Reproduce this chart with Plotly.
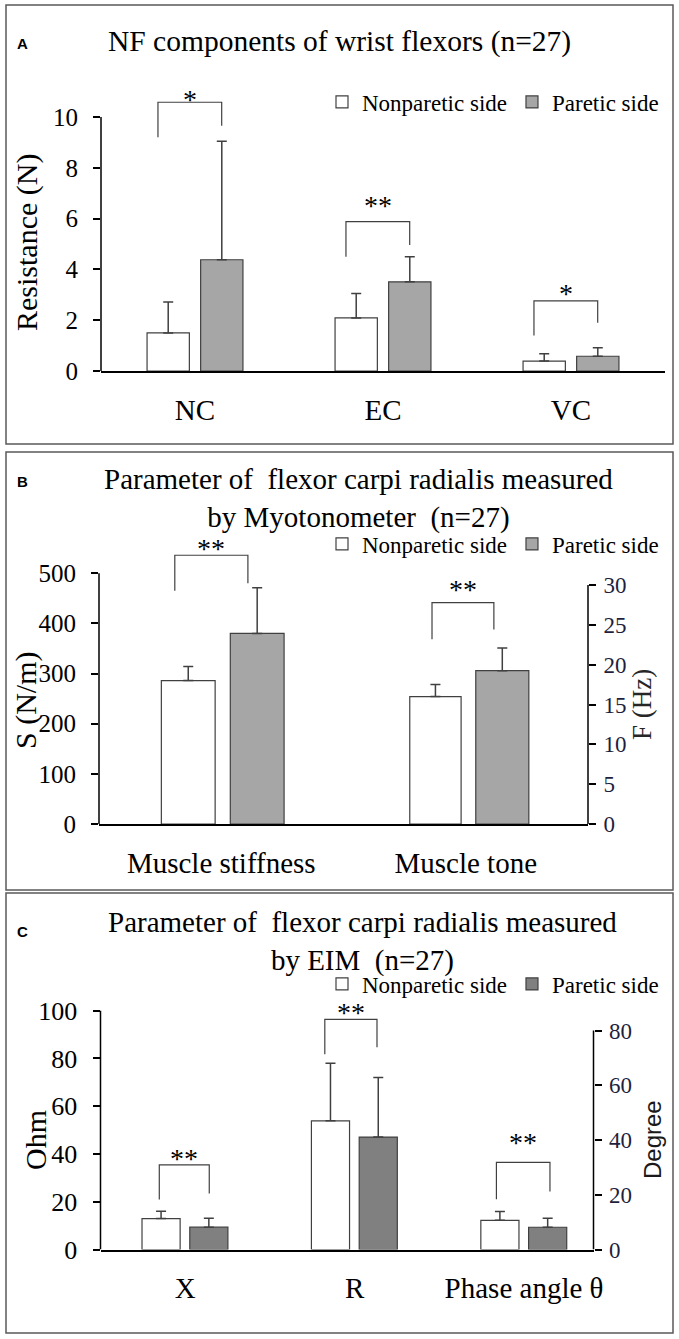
import plotly.graph_objects as go

W, H = 679, 1339
SERIF = "Liberation Serif, Times New Roman, serif"
SANS = "Liberation Sans, Arial, sans-serif"

# ---- panel A: NF components of wrist flexors (N)
a_cats = ["NC", "EC", "VC"]
a_nonparetic = [1.50, 2.09, 0.39]
a_nonparetic_sd = [1.22, 0.96, 0.29]
a_paretic = [4.38, 3.51, 0.58]
a_paretic_sd = [4.67, 0.99, 0.34]
a_sig = ["*", "**", "*"]
a_br_top = [10.58, 5.88, 2.76]
a_br_left = [9.2, 4.5, 1.4]
a_br_right = [9.66, 4.96, 1.9]
a_star = [10.9, 6.7, 3.25]

# ---- panel B: myotonometer (stiffness N/m on left, tone Hz on right)
b_cats = ["Muscle stiffness", "Muscle tone"]
b_nonparetic = [286, 16.0]
b_nonparetic_sd = [28, 1.5]
b_paretic = [380, 19.25]
b_paretic_sd = [91, 2.85]
b_sig = ["**", "**"]
b_br_top = [536, 27.8]
b_br_left = [465, 23.2]
b_br_right = [480, 24.4]
b_star = [560, 30.0]

# ---- panel C: EIM (X, R in Ohm on left, phase angle in degree on right)
c_cats = ["X", "R", "Phase angle θ"]
c_nonparetic = [12.95, 53.9, 10.67]
c_nonparetic_sd = [3.05, 24.1, 3.23]
c_paretic = [9.33, 47.1, 8.12]
c_paretic_sd = [3.77, 24.9, 3.28]
c_sig = ["**", "**", "**"]
c_br_top = [35.4, 96.4, 31.8]
c_br_left = [20.9, 81.8, 18.4]
c_br_right = [23.4, 84.7, 21.2]
c_star = [40.4, 101.4, 41.0]


def fx(p):
    return p / W


def fy(p):
    return 1 - p / H


fig = go.Figure()

EDGE = "#404040"


def add_bars(xs, ys, sd, color, name, xa, ya, leg, show, width, offset):
    fig.add_trace(go.Bar(
        x=xs, y=ys, name=name, width=width, offset=offset,
        marker=dict(color=color, line=dict(color=EDGE, width=1.2)),
        error_y=dict(type="data", symmetric=False, array=sd,
                     arrayminus=[0] * len(sd), color=EDGE, thickness=1.5, width=5),
        xaxis=xa, yaxis=ya, legend=leg, showlegend=show,
    ))


# panel A bars
add_bars([0, 1, 2], a_nonparetic, a_nonparetic_sd, "white", "Nonparetic side",
         "x", "y", "legend", True, 0.225, -0.255)
add_bars([0, 1, 2], a_paretic, a_paretic_sd, "#a6a6a6", "Paretic side",
         "x", "y", "legend", True, 0.225, 0.03)

# panel B bars (stiffness on y2, tone on y3)
add_bars([0], b_nonparetic[:1], b_nonparetic_sd[:1], "white", "Nonparetic side",
         "x2", "y2", "legend2", True, 0.22, -0.245)
add_bars([0], b_paretic[:1], b_paretic_sd[:1], "#a6a6a6", "Paretic side",
         "x2", "y2", "legend2", True, 0.22, 0.037)
add_bars([1], b_nonparetic[1:], b_nonparetic_sd[1:], "white", "Nonparetic side",
         "x2", "y3", "legend2", False, 0.21, -0.229)
add_bars([1], b_paretic[1:], b_paretic_sd[1:], "#a6a6a6", "Paretic side",
         "x2", "y3", "legend2", False, 0.217, 0.041)

# panel C bars (X, R on y4, phase angle on y5)
add_bars([0, 1], c_nonparetic[:2], c_nonparetic_sd[:2], "white", "Nonparetic side",
         "x3", "y4", "legend3", True, 0.225, -0.255)
add_bars([0, 1], c_paretic[:2], c_paretic_sd[:2], "#808080", "Paretic side",
         "x3", "y4", "legend3", True, 0.225, 0.027)
add_bars([2], c_nonparetic[2:], c_nonparetic_sd[2:], "white", "Nonparetic side",
         "x3", "y5", "legend3", False, 0.225, -0.255)
add_bars([2], c_paretic[2:], c_paretic_sd[2:], "#808080", "Paretic side",
         "x3", "y5", "legend3", False, 0.225, 0.027)

shapes = []
annotations = []


def bracket(xc, top, yl, yr, dl, dr, xa, ya, sig, star):
    x0, x1 = xc + dl, xc + dr
    shapes.append(dict(type="path", xref=xa, yref=ya,
                       path=f"M {x0},{yl} L {x0},{top} L {x1},{top} L {x1},{yr}",
                       line=dict(color=EDGE, width=1.2)))
    annotations.append(dict(x=(x0 + x1) / 2, y=star, xref=xa, yref=ya, text=sig,
                            showarrow=False, yshift=-5,
                            font=dict(family=SERIF, size=28, color="black")))


for i in range(3):
    bracket(i, a_br_top[i], a_br_left[i], a_br_right[i], -0.197, 0.142, "x", "y",
            a_sig[i], a_star[i])
bracket(0, b_br_top[0], b_br_left[0], b_br_right[0], -0.19, 0.109, "x2", "y2",
        b_sig[0], b_star[0])
bracket(1, b_br_top[1], b_br_left[1], b_br_right[1], -0.138, 0.115, "x2", "y3",
        b_sig[1], b_star[1])
bracket(0, c_br_top[0], c_br_left[0], c_br_right[0], -0.153, 0.142, "x3", "y4",
        c_sig[0], c_star[0])
bracket(1, c_br_top[1], c_br_left[1], c_br_right[1], -0.176, 0.132, "x3", "y4",
        c_sig[1], c_star[1])
bracket(2, c_br_top[2], c_br_left[2], c_br_right[2], -0.163, 0.153, "x3", "y5",
        c_sig[2], c_star[2])

# axis lines that stop at the last tick
for xa, ya, side, top in [("x", "y", 0, 10), ("x2", "y2", 0, 500), ("x2", "y3", 1, 30),
                          ("x3", "y4", 0, 100), ("x3", "y5", 1, 80)]:
    shapes.append(dict(type="line", xref=f"{xa} domain", yref=ya, x0=side, x1=side,
                       y0=0, y1=top, line=dict(color="black", width=1.5)))

# panel frames
for top, bottom in [(5, 444), (452, 890), (893, 1333)]:
    shapes.append(dict(type="rect", xref="paper", yref="paper",
                       x0=fx(6), x1=fx(673), y0=fy(bottom), y1=fy(top),
                       line=dict(color="#595959", width=1.5)))


def text(px, py, s, size, family=SERIF, angle=0, color="black", bold=False):
    if bold:
        s = f"<b>{s}</b>"
    annotations.append(dict(x=fx(px), y=fy(py), xref="paper", yref="paper", text=s,
                            showarrow=False, textangle=angle, xanchor="center",
                            yanchor="middle",
                            font=dict(family=family, size=size, color=color)))


text(22, 44, "A", 15, SANS, bold=True)
text(22, 481, "B", 15, SANS, bold=True)
text(22, 932, "C", 15, SANS, bold=True)
text(339, 41, "NF components of wrist flexors (n=27)", 29.5)
text(358, 498, "Parameter of\u00a0 flexor carpi radialis measured<br>"
               "by Myotonometer\u00a0 (n=27)", 29)
text(362, 941, "Parameter of\u00a0 flexor carpi radialis measured<br>"
               "by EIM\u00a0 (n=27)", 29)
text(27, 243, "Resistance (N)", 30, angle=-90)
text(26, 700, "S (N/m)", 30, angle=-90)
text(642, 705, "F (Hz)", 27, angle=-90, color="#262626")
text(35, 1140, "Ohm", 30, angle=-90)
text(652, 1140, "Degree", 24, SANS, angle=-90, color="#1a1a1a")


def xaxis(lo, hi, rng, anchor, cats):
    return dict(domain=[fx(lo), fx(hi)], range=rng, anchor=anchor,
                showline=True, linecolor="black", linewidth=1.5, ticks="",
                tickvals=list(range(len(cats))), ticktext=cats, showgrid=False,
                zeroline=False, ticklabelstandoff=12,
                tickfont=dict(family=SERIF, size=29, color="black"))


def yaxis(bottom, top, zero_px, ref_px, ref_val, anchor, vals, size, side="left",
          overlay=None, color="black", standoff=10):
    d = dict(domain=[fy(bottom), fy(top)],
             range=[0, ref_val * (zero_px - top) / (zero_px - ref_px)],
             anchor=anchor, side=side, showline=False, ticks="outside", ticklen=7,
             tickwidth=1.5, tickcolor="black", tickvals=vals, showgrid=False,
             zeroline=False, ticklabelstandoff=standoff,
             tickfont=dict(family=SERIF, size=size, color=color))
    if overlay:
        d["overlaying"] = overlay
        d.pop("domain")
    return d


legend_style = dict(orientation="h", xanchor="left", yanchor="middle",
                    bgcolor="rgba(0,0,0,0)",
                    font=dict(family=SERIF, size=23, color="black"))

fig.update_layout(
    width=W, height=H, autosize=False,
    margin=dict(l=0, r=0, t=0, b=0),
    paper_bgcolor="white", plot_bgcolor="rgba(0,0,0,0)",
    template="none",
    barmode="overlay",
    xaxis=xaxis(101, 665, [-0.5, 2.5], "y", a_cats),
    yaxis=yaxis(371, 94, 371, 117, 10, "x", [0, 2, 4, 6, 8, 10], 25),
    xaxis2=xaxis(99, 588, [-0.5, 1.5], "y2", b_cats),
    yaxis2=yaxis(824, 540, 824, 573.3, 500, "x2", [0, 100, 200, 300, 400, 500], 25),
    yaxis3=yaxis(824, 540, 824, 585, 30, "x2", [0, 5, 10, 15, 20, 25, 30], 23,
                 side="right", overlay="y2", color="#1f1f3d", standoff=3),
    xaxis3=xaxis(100.5, 593.5, [-0.5, 2.41], "y4", c_cats),
    yaxis4=yaxis(1249.5, 1004, 1249.5, 1010.7, 100, "x3", [0, 20, 40, 60, 80, 100], 26),
    yaxis5=yaxis(1249.5, 1004, 1249.5, 1030.5, 80, "x3", [0, 20, 40, 60, 80], 23,
                 side="right", overlay="y4", color="#1f1f3d", standoff=3),
    legend=dict(legend_style, x=fx(322), y=fy(102)),
    legend2=dict(legend_style, x=fx(322), y=fy(544)),
    legend3=dict(legend_style, x=fx(322), y=fy(984)),
    shapes=shapes,
    annotations=annotations,
)

# the page body has a default 8px margin; drop it so the figure fills the window
fig.write_html("out.html", config={"displayModeBar": False},
               post_script="document.body.style.margin='0';")
